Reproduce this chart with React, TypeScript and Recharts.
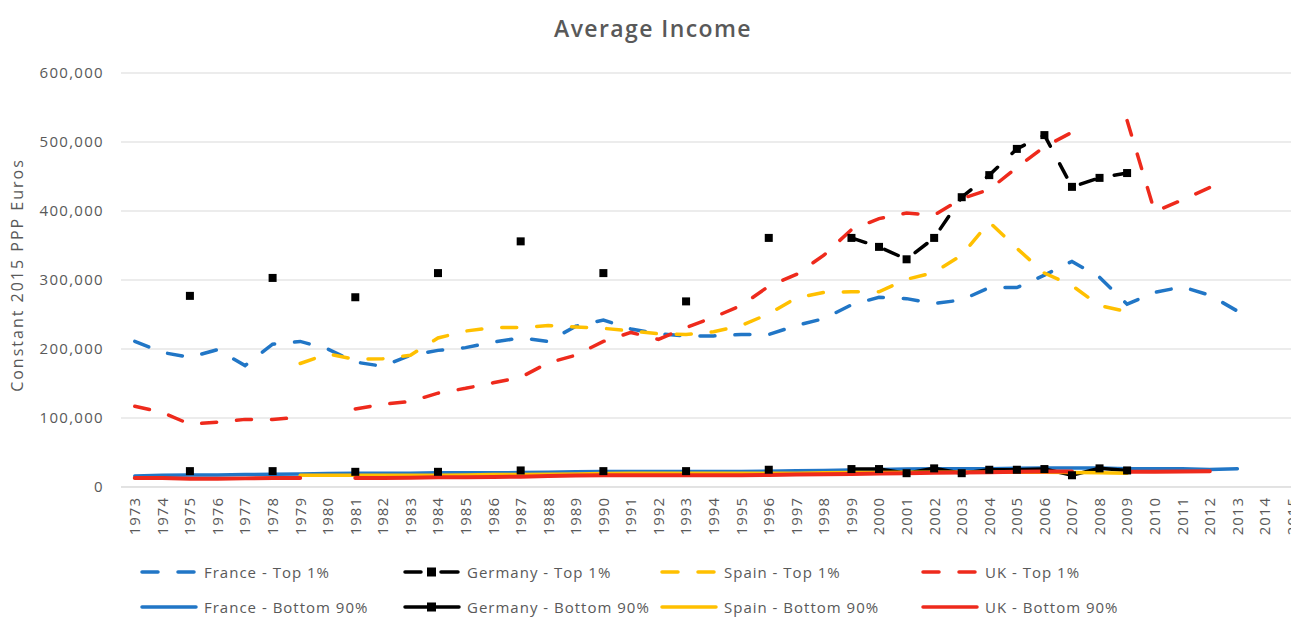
import React from 'react';
import { LineChart, Line, XAxis, YAxis, CartesianGrid } from 'recharts';

const FONT = '"Open Sans", "Noto Sans", sans-serif';
const TEXT = '#595959';
const BLUE = '#2176c6';
const BLACK = '#000000';
const YELLOW = '#ffc000';
const RED = '#ee2a1c';
const DASH = '15 20';

const years = [
  1973, 1974, 1975, 1976, 1977, 1978, 1979, 1980, 1981, 1982, 1983, 1984, 1985, 1986, 1987,
  1988, 1989, 1990, 1991, 1992, 1993, 1994, 1995, 1996, 1997, 1998, 1999, 2000, 2001, 2002,
  2003, 2004, 2005, 2006, 2007, 2008, 2009, 2010, 2011, 2012, 2013, 2014, 2015,
];

const yTicks = [0, 100000, 200000, 300000, 400000, 500000, 600000];

// values in thousands of constant 2015 PPP euros, aligned with `years`
const franceTop1 = [
  211, 195, 188, 199, 176, 207, 211, 200, 181, 175, 191, 198, 202, 210, 216,
  211, 233, 242, 229, 222, 219, 219, 221, 221, 234, 244, 264, 275, 273, 266,
  271, 289, 289, 307, 327, 304, 265, 282, 290, 278, 255, null, null,
];
const germanyTop1 = [
  null, null, 277, null, null, 303, null, null, 275, null, null, 310, null, null, 356,
  null, null, 310, null, null, 269, null, null, 361, null, null, 361, 348, 330, 361,
  420, 452, 490, 510, 435, 448, 455, null, null, null, null, null, null,
];
const spainTop1 = [
  null, null, null, null, null, null, 179, 193, 185, 186, 191, 216, 226, 231, 231,
  234, 232, 230, 226, 222, 221, 225, 234, 251, 274, 282, 283, 283, 301, 311,
  336, 384, 346, 310, 292, 263, 254, null, null, null, null, null, null,
];
const ukTop1 = [
  117, 108, 91, 94, 98, 98, 101, null, 113, 120, 124, 136, 143, 151, 159,
  180, 191, 211, 224, 214, 231, 246, 263, 291, 308, 336, 373, 389, 397, 394,
  418, 431, 463, 493, 514, null, 531, 399, 416, 434, null, null, null,
];
const franceBottom90 = [
  16, 17, 17.5, 17.5, 18, 18.5, 19, 19.5, 20, 20, 20, 20.5, 20.5, 20.5, 21,
  21.5, 22, 22.5, 22.5, 22.5, 22.5, 22.5, 22.5, 23, 23.5, 24, 24.5, 25.5, 26, 26.5,
  26.5, 26.5, 27, 27.5, 27.5, 27.5, 26.5, 26.5, 26.5, 25.5, 26.5, null, null,
];
const germanyBottom90 = [
  null, null, 23, null, null, 23, null, null, 22, null, null, 22, null, null, 24,
  null, null, 23, null, null, 23, null, null, 25, null, null, 26, 26, 20, 27,
  20, 25, 25, 26, 17, 27, 24, null, null, null, null, null, null,
];
const spainBottom90 = [
  null, null, null, null, null, null, 17, 17, 17, 17, 17, 17, 17.5, 18, 18,
  18.5, 19, 19.5, 20, 20, 20, 20, 20, 20, 20, 20.5, 21, 21, 21.5, 21.5,
  21.5, 21.5, 21.5, 21.5, 21, 20.5, 20, null, null, null, null, null, null,
];
const ukBottom90 = [
  13, 13, 12, 12, 12.5, 13, 13, null, 13, 13, 13.5, 14, 14, 14.5, 15,
  16, 16.5, 17, 17, 17, 17, 17, 17, 17.5, 18, 18.5, 19, 19.5, 20, 20.5,
  21, 21.5, 22, 22.5, 22.5, null, 22, 22, 22.5, 23, null, null, null,
];

const k = (v: number | null) => (v == null ? null : v * 1000);

const data = years.map((year, i) => ({
  year,
  franceTop1: k(franceTop1[i]),
  germanyTop1: k(germanyTop1[i]),
  spainTop1: k(spainTop1[i]),
  ukTop1: k(ukTop1[i]),
  franceBottom90: k(franceBottom90[i]),
  germanyBottom90: k(germanyBottom90[i]),
  spainBottom90: k(spainBottom90[i]),
  ukBottom90: k(ukBottom90[i]),
}));

const squareDot = (size: number) => (props: any) => {
  const { cx, cy, index } = props;
  if (cx == null || cy == null || Number.isNaN(cy) || Number.isNaN(cx)) {
    return <g key={`sq-${index}`} />;
  }
  return (
    <rect
      key={`sq-${index}`}
      x={cx - size / 2}
      y={cy - size / 2}
      width={size}
      height={size}
      fill={BLACK}
    />
  );
};

const XTick = (props: any) => {
  const { x, y, payload } = props;
  const ty = y + 2;
  return (
    <text
      x={x}
      y={ty}
      transform={`rotate(-90 ${x} ${ty})`}
      textAnchor="end"
      dy="0.36em"
      fill={TEXT}
      fontSize={15}
      fontFamily={FONT}
      style={{ letterSpacing: '1px' }}
    >
      {payload.value}
    </text>
  );
};

const YTick = (props: any) => {
  const { y, payload } = props;
  return (
    <text
      x={96}
      y={y}
      textAnchor="end"
      dy="0.36em"
      fill={TEXT}
      fontSize={15}
      fontFamily={FONT}
      style={{ letterSpacing: '1.3px' }}
    >
      {Number(payload.value).toLocaleString('en-US')}
    </text>
  );
};

type LegendItem = {
  label: string;
  color: string;
  dashed: boolean;
  marker: boolean;
  col: number;
  row: number;
};

const legendCols = [132, 395, 652, 913];
const legendRows = [564, 599];

const legendItems: LegendItem[] = [
  { label: 'France - Top 1%', color: BLUE, dashed: true, marker: false, col: 0, row: 0 },
  { label: 'Germany - Top 1%', color: BLACK, dashed: true, marker: true, col: 1, row: 0 },
  { label: 'Spain - Top 1%', color: YELLOW, dashed: true, marker: false, col: 2, row: 0 },
  { label: 'UK - Top 1%', color: RED, dashed: true, marker: false, col: 3, row: 0 },
  { label: 'France - Bottom 90%', color: BLUE, dashed: false, marker: false, col: 0, row: 1 },
  { label: 'Germany - Bottom 90%', color: BLACK, dashed: false, marker: true, col: 1, row: 1 },
  { label: 'Spain - Bottom 90%', color: YELLOW, dashed: false, marker: false, col: 2, row: 1 },
  { label: 'UK - Bottom 90%', color: RED, dashed: false, marker: false, col: 3, row: 1 },
];

const LegendSample = ({ item }: { item: LegendItem }) => {
  if (item.marker) {
    return (
      <svg width={58} height={14} style={{ display: 'block' }}>
        {item.dashed ? (
          <>
            <line x1={2} y1={7} x2={18} y2={7} stroke={item.color} strokeWidth={3.5} strokeLinecap="round" />
            <line x1={38} y1={7} x2={55} y2={7} stroke={item.color} strokeWidth={3.5} strokeLinecap="round" />
          </>
        ) : (
          <line x1={2} y1={7} x2={56} y2={7} stroke={item.color} strokeWidth={3.5} strokeLinecap="round" />
        )}
        <rect x={24} y={2.5} width={9} height={9} fill={item.color} />
      </svg>
    );
  }
  return (
    <svg width={58} height={14} style={{ display: 'block' }}>
      <line
        x1={2}
        y1={7}
        x2={56}
        y2={7}
        stroke={item.color}
        strokeWidth={3.5}
        strokeLinecap="round"
        strokeDasharray={item.dashed ? '16 20' : undefined}
      />
    </svg>
  );
};

export default function App() {
  return (
    <div
      style={{
        position: 'relative',
        width: 1290,
        height: 610,
        fontFamily: FONT,
      }}
    >
      <div
        style={{
          position: 'absolute',
          left: 0,
          top: 4,
          width: 1290,
          height: 32,
          lineHeight: '32px',
          textAlign: 'center',
          color: TEXT,
          fontSize: 23,
          fontWeight: 600,
          letterSpacing: '1.4px',
          fontFamily: FONT,
        }}
      >
        Average Income
      </div>
      <div
        style={{
          position: 'absolute',
          left: 9 - 150,
          top: 267 - 12,
          width: 300,
          height: 24,
          lineHeight: '24px',
          textAlign: 'center',
          transform: 'rotate(-90deg)',
          color: TEXT,
          fontSize: 16,
          letterSpacing: '2px',
          fontFamily: FONT,
          whiteSpace: 'nowrap',
        }}
      >
        Constant 2015 PPP Euros
      </div>

      <LineChart
        width={1290}
        height={600}
        data={data}
        margin={{ top: 65, right: 0, bottom: 61, left: 0 }}
      >
        <CartesianGrid horizontal vertical={false} stroke="#d9d9d9" strokeWidth={1} />
        <XAxis
          dataKey="year"
          type="number"
          domain={[1972.5, 2015.2]}
          ticks={years}
          interval={0}
          height={60}
          axisLine={{ stroke: '#d9d9d9', strokeWidth: 1 }}
          tickLine={false}
          tick={<XTick />}
          allowDataOverflow
        />
        <YAxis
          type="number"
          domain={[0, 600000]}
          ticks={yTicks}
          width={113}
          axisLine={false}
          tickLine={false}
          tick={<YTick />}
          allowDataOverflow
        />
        <Line
          dataKey="franceTop1"
          stroke={BLUE}
          strokeWidth={3.5}
          strokeDasharray={DASH}
          strokeLinecap="round"
          dot={false}
          activeDot={false}
          type="linear"
          isAnimationActive={false}
        />
        <Line
          dataKey="germanyTop1"
          stroke={BLACK}
          strokeWidth={3.5}
          strokeDasharray={DASH}
          strokeLinecap="round"
          dot={squareDot(8)}
          activeDot={false}
          type="linear"
          isAnimationActive={false}
        />
        <Line
          dataKey="spainTop1"
          stroke={YELLOW}
          strokeWidth={3.5}
          strokeDasharray={DASH}
          strokeLinecap="round"
          dot={false}
          activeDot={false}
          type="linear"
          isAnimationActive={false}
        />
        <Line
          dataKey="ukTop1"
          stroke={RED}
          strokeWidth={3.5}
          strokeDasharray={DASH}
          strokeLinecap="round"
          dot={false}
          activeDot={false}
          type="linear"
          isAnimationActive={false}
        />
        <Line
          dataKey="franceBottom90"
          stroke={BLUE}
          strokeWidth={3.5}
          strokeLinecap="round"
          dot={false}
          activeDot={false}
          type="linear"
          isAnimationActive={false}
        />
        <Line
          dataKey="germanyBottom90"
          stroke={BLACK}
          strokeWidth={3.5}
          strokeLinecap="round"
          dot={squareDot(8)}
          activeDot={false}
          type="linear"
          isAnimationActive={false}
        />
        <Line
          dataKey="spainBottom90"
          stroke={YELLOW}
          strokeWidth={3.5}
          strokeLinecap="round"
          dot={false}
          activeDot={false}
          type="linear"
          isAnimationActive={false}
        />
        <Line
          dataKey="ukBottom90"
          stroke={RED}
          strokeWidth={4}
          strokeLinecap="round"
          dot={false}
          activeDot={false}
          type="linear"
          isAnimationActive={false}
        />
      </LineChart>

      {legendItems.map((item) => (
        <div
          key={item.label}
          style={{
            position: 'absolute',
            left: legendCols[item.col],
            top: legendRows[item.row] - 8,
            height: 16,
            display: 'flex',
            alignItems: 'center',
            whiteSpace: 'nowrap',
          }}
        >
          <LegendSample item={item} />
          <span
            style={{
              marginLeft: 6,
              color: TEXT,
              fontSize: 15,
              letterSpacing: '1px',
              lineHeight: '16px',
              fontFamily: FONT,
            }}
          >
            {item.label}
          </span>
        </div>
      ))}
    </div>
  );
}
